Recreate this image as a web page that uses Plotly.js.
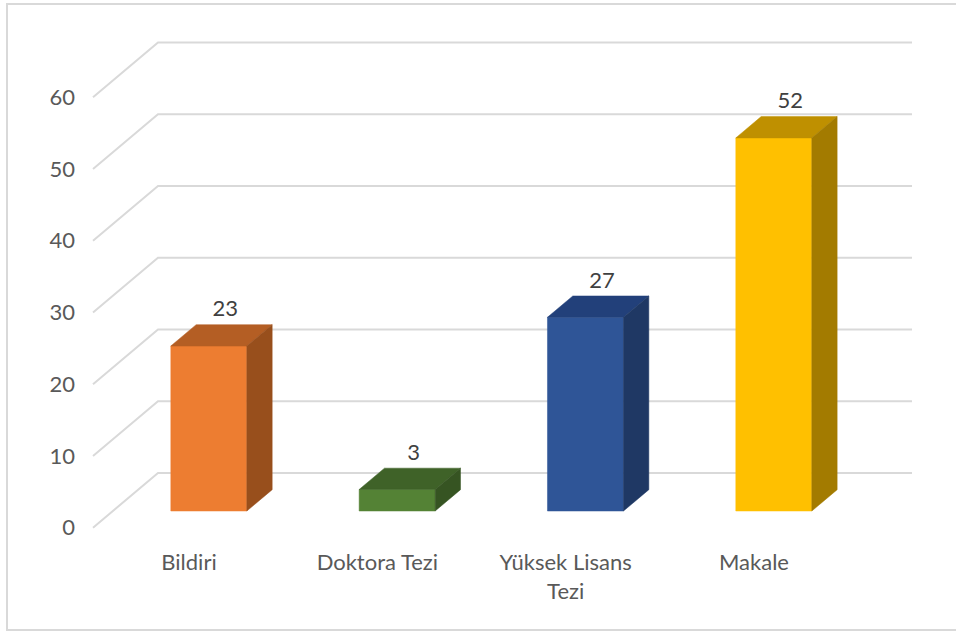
<!DOCTYPE html>
<html><head><meta charset="utf-8">
<script src="https://cdn.plot.ly/plotly-3.0.1.min.js"></script>
<style>html,body{margin:0;padding:0;background:#fff;overflow:hidden;}</style>
</head><body><div id="chart" style="width:956px;height:631px;"></div>
<script>
const categories = ["Bildiri", "Doktora Tezi", "Yüksek Lisans<br>Tezi", "Makale"];
const values = [23, 3, 27, 52];
const frontColors = ["#ED7D31", "#548235", "#2F5597", "#FFC000"];
const topColors = ["#B45E24", "#3F6228", "#22407A", "#BF9000"];
const sideColors = ["#984F1C", "#365422", "#1F3864", "#A37B00"];
const yTicks = [0, 10, 20, 30, 40, 50, 60];

// 3D geometry constants (axis units)
const DX = 0.3451, DY = 7.624;   // full floor depth offset
const F0 = 0.305, F1 = 0.695;    // bar front/back depth fractions
const HW = 0.2018;               // bar half width
const GX0 = -0.5097, GX1 = 3.839; // gridline front start / back end
const LABEL_LIFT = 0.4;          // data label lift above bar top
const FONT = "Lato, 'Open Sans', sans-serif";

const traces = [];
// gridlines
const gx = [], gy = [];
yTicks.forEach(v => {
  gx.push(GX0, GX0 + DX, GX1, null);
  gy.push(v, v + DY, v + DY, null);
});
traces.push({x: gx, y: gy, mode: "lines", line: {color: "#D9D9D9", width: 2}, hoverinfo: "skip", showlegend: false});

// bars
values.forEach((v, i) => {
  const cx = i + F0 * DX, y0 = F0 * DY;
  const dx = (F1 - F0) * DX, dy = (F1 - F0) * DY;
  const L = cx - HW, R = cx + HW;
  const poly = (xs, ys, c) => traces.push({x: xs, y: ys, mode: "lines", fill: "toself", fillcolor: c,
    line: {color: c, width: 0.5}, hoverinfo: "skip", showlegend: false});
  poly([L, R, R, L, L], [y0, y0, y0 + v, y0 + v, y0], frontColors[i]);
  poly([L, R, R + dx, L + dx, L], [y0 + v, y0 + v, y0 + v + dy, y0 + v + dy, y0 + v], topColors[i]);
  poly([R, R + dx, R + dx, R, R], [y0, y0 + dy, y0 + dy + v, y0 + v, y0], sideColors[i]);
});

// data labels
traces.push({
  x: values.map((v, i) => i + F0 * DX + (F1 - F0) * DX * 0.65),
  y: values.map(v => v + F1 * DY + LABEL_LIFT),
  text: values.map(String),
  mode: "text", textposition: "top center",
  textfont: {family: FONT, size: 22, color: "#404040"},
  hoverinfo: "skip", showlegend: false, cliponaxis: false
});

const layout = {
  width: 956, height: 631,
  margin: {l: 90, r: 41, t: 35, b: 100},
  paper_bgcolor: "#FFFFFF", plot_bgcolor: "rgba(0,0,0,0)",
  showlegend: false,
  xaxis: {range: [-0.5257, 3.855], tickvals: [0, 1, 2, 3], ticktext: categories,
    showgrid: false, zeroline: false, showline: false, ticks: "",
    tickfont: {family: FONT, size: 22, color: "#595959"}, ticklabelstandoff: 16, fixedrange: true},
  yaxis: {range: [-0.46, 68.67], tickvals: yTicks, ticktext: yTicks.map(String),
    showgrid: false, zeroline: false, showline: false, ticks: "",
    tickfont: {family: FONT, size: 22, color: "#595959"}, ticklabelstandoff: 14, fixedrange: true},
  shapes: [{type: "rect", xref: "paper", yref: "paper",
    x0: -0.1006, x1: 1.06, y0: -0.1996, y1: 1.0625,
    line: {color: "#D9D9D9", width: 2}, fillcolor: "rgba(0,0,0,0)", layer: "below"}]
};
Plotly.newPlot("chart", traces, layout, {displayModeBar: false, staticPlot: true});
</script></body></html>
